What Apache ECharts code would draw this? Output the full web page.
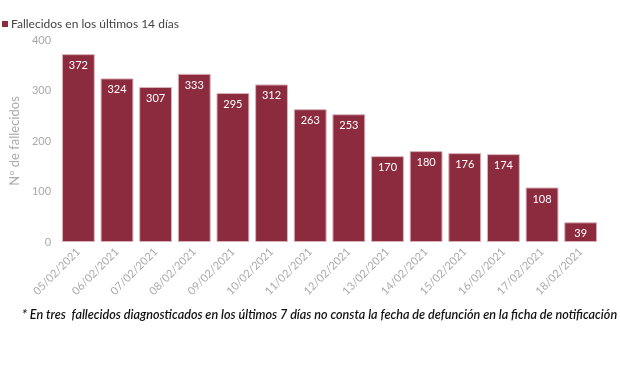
<!DOCTYPE html>
<html><head><meta charset="utf-8">
<script src="https://cdn.jsdelivr.net/npm/echarts@6/dist/echarts.min.js"></script>
<style>html,body{margin:0;padding:0;background:#fff}#c{width:620px;height:368px}</style>
</head><body><div id="c"></div>
<script>
const categories = ["05/02/2021","06/02/2021","07/02/2021","08/02/2021","09/02/2021","10/02/2021","11/02/2021","12/02/2021","13/02/2021","14/02/2021","15/02/2021","16/02/2021","17/02/2021","18/02/2021"];
const fallecidos = [372,324,307,333,295,312,263,253,170,180,176,174,108,39];
const yTicks = [0,100,200,300,400];
const seriesName = "Fallecidos en los últimos 14 días";
const yAxisName = "Nº de fallecidos";
const footnote = "* En tres  fallecidos diagnosticados en los últimos 7 días no consta la fecha de defunción en la ficha de notificación";

const chart = echarts.init(document.getElementById('c'), null, {renderer:'canvas'});
chart.setOption({
  animation:false,
  textStyle:{fontFamily:'Lato, "Open Sans", sans-serif'},
  legend:{
    left:2, top:18, padding:0, itemWidth:6, itemHeight:6, itemGap:4,
    icon:'rect',
    itemStyle:{borderWidth:0},
    textStyle:{color:'#444', fontSize:12, fontFamily:'Lato, sans-serif', padding:[0,0,0,-2]},
    data:[seriesName]
  },
  graphic:[{
    type:'text', left:22, top:308,
    style:{text:footnote, fill:'#111', font:'italic 600 12.6px Lato, "Open Sans", sans-serif'}
  }],
  grid:{left:52, right:20, top:40, bottom:126},
  xAxis:{
    type:'category', data:categories,
    axisLine:{show:false}, axisTick:{show:false},
    axisLabel:{rotate:45, color:'#aaa', fontSize:11, margin:8, interval:0}
  },
  yAxis:{
    type:'value', min:0, max:400, interval:100,
    name:yAxisName, nameLocation:'middle', nameGap:32,
    nameTextStyle:{color:'#aaa', fontSize:13},
    axisLabel:{color:'#aaa', fontSize:11, customValues:yTicks},
    splitLine:{show:false}, axisLine:{show:false}, axisTick:{show:false}
  },
  series:[{
    name:seriesName, type:'bar', data:fallecidos,
    barCategoryGap:'15%',
    itemStyle:{color:'#8c2b3d', borderColor:'#d9b3ba', borderWidth:1},
    label:{show:true, position:'insideTop', color:'#fff', fontSize:11, distance:6}
  }]
});
</script></body></html>
